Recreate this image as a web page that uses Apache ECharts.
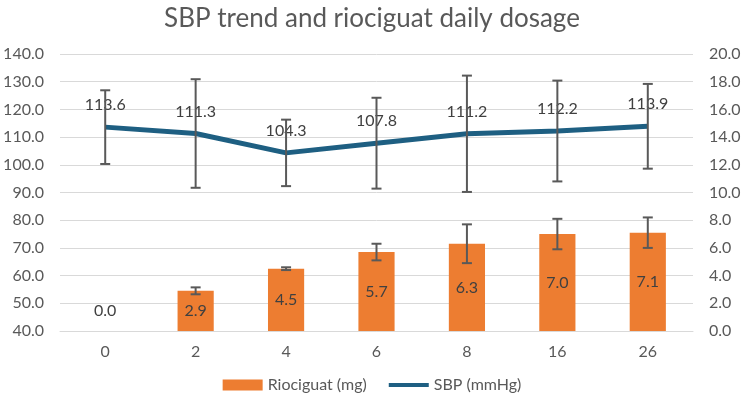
<!DOCTYPE html>
<html>
<head>
<meta charset="utf-8">
<script src="https://cdn.jsdelivr.net/npm/echarts@6/dist/echarts.min.js"></script>
<style>
  html, body { margin: 0; padding: 0; background: #fff; }
  #chart { width: 744px; height: 407px; }
</style>
</head>
<body>
<div id="chart"></div>
<script>
// weeks
const weeks = ["0", "2", "4", "6", "8", "16", "26"];
// riociguat daily dose (mg) and its error
const dose = [0.0, 2.9, 4.5, 5.7, 6.3, 7.0, 7.1];
const doseErr = [0, 0.25, 0.1, 0.6, 1.4, 1.1, 1.1];
// SBP (mmHg) and its error
const sbp = [113.6, 111.3, 104.3, 107.8, 111.2, 112.2, 113.9];
const sbpErr = [13.3, 19.6, 12.0, 16.4, 21.0, 18.2, 15.3];

const textColor = "#595959";
const font = "Lato";

// error bar drawn with a custom series
function errorBar(values, errs, yAxisIndex, z) {
  return {
    type: "custom",
    yAxisIndex: yAxisIndex,
    z: z,
    silent: true,
    data: values.map((v, i) => [i, v - errs[i], v + errs[i]]),
    renderItem(params, api) {
      if (api.value(1) === api.value(2)) return null;
      const x = api.value(0);
      const lo = api.coord([x, api.value(1)]);
      const hi = api.coord([x, api.value(2)]);
      const half = 5;
      const style = { stroke: "#595959", lineWidth: 2 };
      return {
        type: "group",
        children: [
          { type: "line", shape: { x1: lo[0], y1: lo[1], x2: hi[0], y2: hi[1] }, style },
          { type: "line", shape: { x1: lo[0] - half, y1: lo[1], x2: lo[0] + half, y2: lo[1] }, style },
          { type: "line", shape: { x1: hi[0] - half, y1: hi[1], x2: hi[0] + half, y2: hi[1] }, style },
        ],
      };
    },
  };
}

const chart = echarts.init(document.getElementById("chart"));
const option = {
  animation: false,
  textStyle: { fontFamily: font },
  title: {
    text: "SBP trend and riociguat daily dosage",
    left: "center",
    top: 1,
    textStyle: { color: textColor, fontSize: 26, fontWeight: "normal", fontFamily: font },
  },
  legend: {
    bottom: 9,
    left: "center",
    itemGap: 22,
    itemWidth: 40,
    itemHeight: 11,
    textStyle: { color: textColor, fontSize: 16, fontFamily: font },
    data: [
      { name: "Riociguat (mg)", icon: "rect", itemStyle: { color: "#ED7D31" } },
      {
        name: "SBP (mmHg)",
        icon: "path://M0,0h0.01v0.01h-0.01z M0,3.5h40v4h-40z M40,11h-0.01v-0.01h0.01z",
        itemStyle: { color: "#1E5F82" },
      },
    ],
  },
  grid: { left: 60, right: 51, top: 54, bottom: 76 },
  xAxis: {
    type: "category",
    data: weeks,
    axisTick: { show: false },
    axisLine: { lineStyle: { color: "#d9d9d9", width: 1 } },
    axisLabel: { color: textColor, fontSize: 16, margin: 13 },
  },
  yAxis: [
    {
      type: "value",
      min: 40,
      max: 140,
      interval: 10,
      axisLabel: { color: textColor, fontSize: 16, formatter: (v) => v.toFixed(1), margin: 16 },
      splitLine: { lineStyle: { color: "#d9d9d9", width: 1 } },
      axisLine: { show: false },
      axisTick: { show: false },
    },
    {
      type: "value",
      min: 0,
      max: 20,
      interval: 2,
      axisLabel: { color: textColor, fontSize: 16, formatter: (v) => v.toFixed(1), margin: 16 },
      splitLine: { show: false },
      axisLine: { show: false },
      axisTick: { show: false },
    },
  ],
  series: [
    {
      name: "Riociguat (mg)",
      type: "bar",
      yAxisIndex: 1,
      barWidth: "40%",
      itemStyle: { color: "#ED7D31" },
      data: dose.map((v) => (v === 0 ? { value: v, label: { position: "top", distance: 12 } } : v)),
      label: {
        show: true,
        position: "inside",
        color: "#404040",
        fontSize: 16,
        formatter: (p) => p.value.toFixed(1),
      },
      z: 2,
    },
    errorBar(dose, doseErr, 1, 3),
    {
      name: "SBP (mmHg)",
      type: "line",
      yAxisIndex: 0,
      data: sbp,
      symbol: "circle",
      symbolSize: 0.1,
      lineStyle: { color: "#1E5F82", width: 5 },
      itemStyle: { color: "#1E5F82" },
      label: {
        show: true,
        position: "top",
        distance: 14,
        color: "#404040",
        fontSize: 16,
        formatter: (p) => p.value.toFixed(1),
      },
      z: 4,
    },
    errorBar(sbp, sbpErr, 0, 5),
  ],
};
chart.setOption(option);
</script>
</body>
</html>
